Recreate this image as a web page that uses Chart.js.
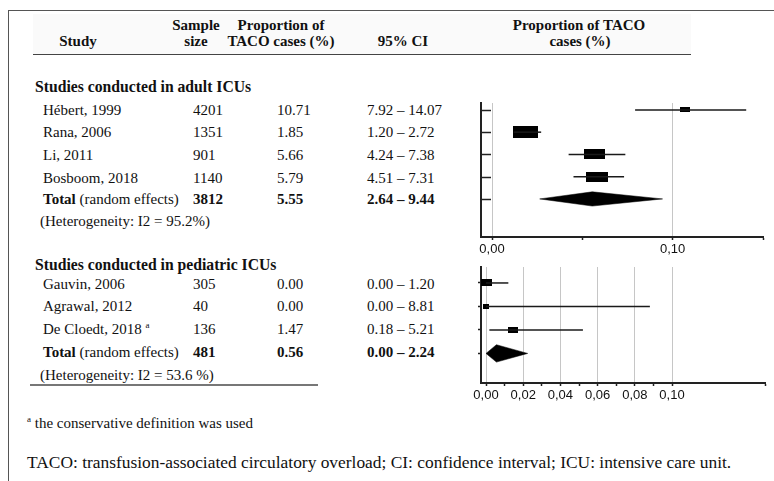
<!DOCTYPE html>
<html>
<head>
<meta charset="utf-8">
<script src="https://cdn.jsdelivr.net/npm/chart.js@4.4.1/dist/chart.umd.min.js"></script>
<style>
body { margin: 0; background: #fff; }
#page { position: relative; width: 774px; height: 481px; overflow: hidden; font-family: "Liberation Serif", serif; font-size: 15px; color: #111; }
#frame { position: absolute; left: 8px; top: 10px; width: 780px; height: 480px; border-top: 1.5px solid #555; border-left: 1.5px solid #555; }
#headBg { position: absolute; left: 33px; top: 14px; width: 658px; height: 40px; background: #fafafa; border-bottom: 1.5px solid #444; }
#endLine { position: absolute; left: 30px; top: 384px; width: 288px; height: 0; border-top: 2px solid #777; }
.t { position: absolute; white-space: nowrap; line-height: 16px; }
.b { font-weight: bold; }
.h { font-size: 15.7px; }
.w { font-size: 17.4px; }
.c { transform: translateX(-50%); text-align: center; }
sup { font-size: 9px; line-height: 0; }
canvas { position: absolute; }
</style>
</head>
<body>
<div id="page">
    <div id="frame"></div>
    <div id="headBg"></div>
    <div id="endLine"></div>
    <div id="topWrap" style="position:absolute;left:455px;top:95px;width:319px;height:170px;"><canvas id="topChart"></canvas></div>
    <div id="botWrap" style="position:absolute;left:455px;top:255px;width:319px;height:160px;"><canvas id="botChart"></canvas></div>
</div>
<script>
// adult ICUs
const adultStudies = ["Hébert, 1999", "Rana, 2006", "Li, 2011", "Bosboom, 2018"];
const adultSize = [4201, 1351, 901, 1140];
const adultProp = [10.71, 1.85, 5.66, 5.79];
const adultLow = [7.92, 1.20, 4.24, 4.51];
const adultHigh = [14.07, 2.72, 7.38, 7.31];
const adultWeight = [13, 32, 27, 28];
const adultTotal = { size: 3812, prop: 5.55, low: 2.64, high: 9.44, i2: "95.2%" };

// pediatric ICUs
const pedStudies = ["Gauvin, 2006", "Agrawal, 2012", "De Cloedt, 2018"];
const pedSize = [305, 40, 136];
const pedProp = [0.00, 0.00, 1.47];
const pedLow = [0.00, 0.00, 0.18];
const pedHigh = [1.20, 8.81, 5.21];
const pedWeight = [43, 21, 36];
const pedTotal = { size: 481, prop: 0.56, low: 0.00, high: 2.24, i2: "53.6 %" };

// x axis ticks (proportion)
const topTicks = [0, 0.05, 0.10, 0.15];
const topLabels = [0, 0.10];
const botTicks = [0, 0.01, 0.02, 0.03, 0.04, 0.05, 0.06, 0.07, 0.08, 0.09, 0.10, 0.15];
const botLabels = [0, 0.02, 0.04, 0.06, 0.08, 0.10];

const page = document.getElementById("page");

function put(html, x, y, cls)
{
    const d = document.createElement("div");
    d.className = "t " + (cls || "");
    d.innerHTML = html;
    d.style.left = x + "px";
    d.style.top = (y - 8) + "px";
    page.appendChild(d);
}

function fmt(v) { return v.toFixed(2); }

// header
put("Study", 78, 41, "b c");
put("Sample", 196, 25, "b c");
put("size", 196, 41, "b c");
put("Proportion of", 281, 25, "b c");
put("TACO cases (%)", 281, 41, "b c");
put("95% CI", 403, 41, "b c");
put("Proportion of TACO", 579, 25, "b c");
put("cases (%)", 580, 41, "b c");

function table(title, names, sizes, props, lows, highs, total, rowY)
{
    put(title, 35, rowY[0], "b h");
    names.forEach((n, i) => {
        const y = rowY[i + 1];
        put(n, 43, y);
        put(String(sizes[i]), 193, y);
        put(fmt(props[i]), 277, y);
        put(fmt(lows[i]) + " – " + fmt(highs[i]), 367, y);
    });
    const ty = rowY[names.length + 1];
    put("<b>Total</b> (random effects)", 43, ty);
    put(String(total.size), 193, ty, "b");
    put(fmt(total.prop), 277, ty, "b");
    put(fmt(total.low) + " – " + fmt(total.high), 367, ty, "b");
    put("(Heterogeneity: I2 = " + total.i2 + ")", 40, rowY[names.length + 2]);
}

table("Studies conducted in adult ICUs", adultStudies, adultSize, adultProp, adultLow, adultHigh,
      adultTotal, [87, 110, 132, 155, 178, 199, 221]);
table("Studies conducted in pediatric ICUs", pedStudies.map((s, i) => i === 2 ? s + " <sup>a</sup>" : s),
      pedSize, pedProp, pedLow, pedHigh, pedTotal, [265, 284, 306, 329, 352, 375]);

put("<sup>a</sup> the conservative definition was used", 27, 423);
put("TACO: transfusion-associated circulatory overload; CI: confidence interval; ICU: intensive care unit.", 27, 462, "w");

/* global Chart */

function boxImage(w, h)
{
    const c = document.createElement("canvas");
    c.width = Math.round(w);
    c.height = Math.round(h);
    const g = c.getContext("2d");
    g.fillStyle = "#000";
    g.fillRect(0, 0, c.width, c.height);
    return c;
}

const innerTicks = {
    id: "innerTicks",
    afterDraw(chart, args, opts)
    {
        if (!opts.rows) return;
        const { ctx, chartArea, scales } = chart;
        ctx.save();
        ctx.strokeStyle = "#222";
        ctx.lineWidth = 1.5;
        opts.rows.forEach(r => {
            const py = Math.round(scales.y.getPixelForValue(r)) + 0.5;
            ctx.beginPath();
            ctx.moveTo(chartArea.left, py);
            ctx.lineTo(chartArea.left + opts.len, py);
            ctx.stroke();
        });
        ctx.restore();
    }
};

function near(list, v) { return list.some(t => Math.abs(t - v) < 1e-6); }

function makePanel(id, p)
{
    const n = p.props.length;
    const datasets = [];

    for (let i = 0; i < n; i++)
    {
        datasets.push({
            type: "line",
            data: [{ x: p.lows[i] / 100, y: i }, { x: p.highs[i] / 100, y: i }],
            borderColor: "#1a1a1a",
            borderWidth: 1.5,
            pointRadius: 0
        });
    }

    const imgs = p.weights.map(w => boxImage(w * p.boxW, w * p.boxH + p.boxH0));
    datasets.push({
        type: "scatter",
        data: p.props.map((v, i) => ({ x: v / 100, y: i })),
        pointStyle: ctx => imgs[ctx.dataIndex],
        pointRadius: 3
    });

    const t = p.total, d = p.diamond;
    datasets.push({
        type: "line",
        data: [
            { x: t.low / 100, y: n },
            { x: t.prop / 100, y: n - d },
            { x: t.high / 100, y: n },
            { x: t.prop / 100, y: n + d },
            { x: t.low / 100, y: n }
        ],
        borderWidth: 0.5,
        borderColor: "#000",
        backgroundColor: "#000",
        fill: "shape",
        pointRadius: 0,
        tension: 0
    });

    return new Chart(document.getElementById(id), {
        type: "scatter",
        data: { datasets: datasets },
        options: {
            responsive: true,
            maintainAspectRatio: false,
            animation: false,
            layout: { padding: p.padding },
            plugins: {
                legend: { display: false },
                tooltip: { enabled: false },
                innerTicks: { rows: p.innerRows, len: 10 }
            },
            scales: {
                x: {
                    type: "linear",
                    min: p.xMin,
                    max: 0.15,
                    afterBuildTicks: s => { s.ticks = p.ticks.map(v => ({ value: v })); },
                    afterFit: s => { s.height = 22; },
                    ticks: {
                        autoSkip: false,
                        maxRotation: 0,
                        padding: 2,
                        color: "#111",
                        font: { family: "Liberation Sans, Arial, sans-serif", size: 13 },
                        callback: v => near(p.labels, v) ? v.toFixed(2).replace(".", ",") : ""
                    },
                    grid: {
                        color: c => c.tick && near(p.labels, c.tick.value) ? "#c6c6c6" : "rgba(0,0,0,0)",
                        lineWidth: 1,
                        tickColor: "#222",
                        tickLength: 3,
                        tickWidth: 1.5
                    },
                    border: { color: "#222", width: 2 }
                },
                y: {
                    type: "linear",
                    reverse: true,
                    min: p.yMin,
                    max: p.yMax,
                    afterBuildTicks: s => { s.ticks = p.yRows.map(v => ({ value: v })); },
                    afterFit: s => { s.width = 0; },
                    ticks: { display: false },
                    grid: {
                        drawOnChartArea: false,
                        drawTicks: p.outerTicks,
                        tickLength: 3,
                        tickColor: "#222",
                        tickWidth: 1.5
                    },
                    border: { color: "#222", width: 2 }
                }
            }
        },
        plugins: [innerTicks]
    });
}

makePanel("topChart", {
    props: adultProp, lows: adultLow, highs: adultHigh, weights: adultWeight, total: adultTotal,
    boxW: 0.78, boxH: 0.36, boxH0: 0, diamond: 0.32,
    padding: { left: 26, right: 11, top: 8, bottom: 6 },
    xMin: -0.0061, yMin: -0.31, yMax: 5.71,
    ticks: topTicks, labels: topLabels,
    yRows: [0, 1, 2, 3, 4], innerRows: [0, 1, 2, 3, 4], outerTicks: false
});

makePanel("botChart", {
    props: pedProp, lows: pedLow, highs: pedHigh, weights: pedWeight, total: pedTotal,
    boxW: 0.28, boxH: 0.11, boxH0: 2.5, diamond: 0.37,
    padding: { left: 26, right: 9, top: 12, bottom: 10 },
    xMin: -0.0027, yMin: -0.68, yMax: 4.26,
    ticks: botTicks, labels: botLabels,
    yRows: [0, 1, 2, 3], innerRows: null, outerTicks: true
});
</script>
</body>
</html>
